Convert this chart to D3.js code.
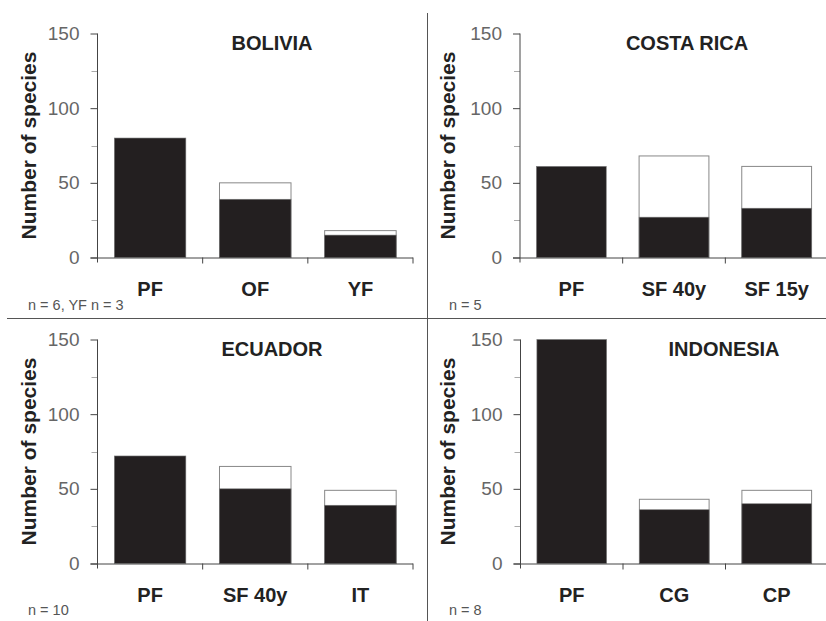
<!DOCTYPE html>
<html><head><meta charset="utf-8">
<script src="https://cdn.jsdelivr.net/npm/d3@7"></script>
<style>
html,body{margin:0;padding:0;background:#fff;}
svg{display:block;}
</style></head>
<body>
<svg id="chart" width="826" height="621"></svg>
<script>
// ---- data ----
const countries = ["BOLIVIA", "COSTA RICA", "ECUADOR", "INDONESIA"];
const categories = [
  ["PF", "OF", "YF"],
  ["PF", "SF 40y", "SF 15y"],
  ["PF", "SF 40y", "IT"],
  ["PF", "CG", "CP"]
];
const blackValues = [
  [80, 39, 15],
  [61, 27, 33],
  [72, 50, 39],
  [150, 36, 40]
];
const totalValues = [
  [80, 50, 18],
  [61, 68, 61],
  [72, 65, 49],
  [150, 43, 49]
];
const sampleNotes = ["n = 6, YF n = 3", "n = 5", "n = 10", "n = 8"];
const yMajorTicks = [0, 50, 100, 150];
const yMinorTicks = [25, 75, 125];
const yTitle = "Number of species";

// ---- layout ----
const layout = [
  {x0: 97.5, x1: 413, yTop: 33.5, yBot: 257.5, titleX: 272, titleY: 50, yTitleX: 28, noteX: 28, noteY: 310},
  {x0: 520, x1: 828, yTop: 33.5, yBot: 257.5, titleX: 687, titleY: 50, yTitleX: 447, noteX: 449, noteY: 310},
  {x0: 97.5, x1: 413, yTop: 339.5, yBot: 563.5, titleX: 272, titleY: 356, yTitleX: 28, noteX: 28, noteY: 615},
  {x0: 520.5, x1: 828, yTop: 339.5, yBot: 563.5, titleX: 724, titleY: 356, yTitleX: 447, noteX: 449, noteY: 615}
];

const svg = d3.select("#chart");
const FONT = "'Liberation Sans', Arial, Helvetica, sans-serif";

// dividers
svg.append("line").attr("x1", 7).attr("x2", 826).attr("y1", 318.5).attr("y2", 318.5)
  .attr("stroke", "#555").attr("stroke-width", 1);
svg.append("line").attr("x1", 427.5).attr("x2", 427.5).attr("y1", 13).attr("y2", 621)
  .attr("stroke", "#555").attr("stroke-width", 1);

countries.forEach((country, i) => {
  const L = layout[i];
  const g = svg.append("g");
  const y = d3.scaleLinear().domain([0, 150]).range([L.yBot, L.yTop]);
  const x = d3.scaleBand().domain(categories[i]).range([L.x0, L.x1])
    .paddingInner(0.32).paddingOuter(0.16);

  // minor ticks
  g.selectAll(".minor").data(yMinorTicks).join("line")
    .attr("x1", L.x0 - 6).attr("x2", L.x0)
    .attr("y1", d => Math.round(y(d)) + 0.5).attr("y2", d => Math.round(y(d)) + 0.5)
    .attr("stroke", "#aaa").attr("stroke-width", 1);

  // y axis
  const yAxis = g.append("g").attr("transform", `translate(${L.x0},0)`)
    .call(d3.axisLeft(y).tickValues(yMajorTicks).tickSize(7).tickPadding(11));
  yAxis.select(".domain").remove();
  yAxis.selectAll(".tick line").attr("stroke", "#444");
  yAxis.selectAll(".tick text").attr("fill", "#666").attr("font-size", 19)
    .attr("font-family", FONT).attr("font-weight", 300);
  g.append("line").attr("x1", L.x0).attr("x2", L.x0)
    .attr("y1", L.yTop).attr("y2", L.yBot + 5).attr("stroke", "#444");

  // bars: white (total) then black
  const rows = categories[i].map((c, j) => ({c, b: blackValues[i][j], t: totalValues[i][j]}));
  g.selectAll(".tot").data(rows.filter(r => r.t > r.b)).join("rect")
    .attr("x", d => x(d.c)).attr("width", x.bandwidth())
    .attr("y", d => y(d.t)).attr("height", d => y(0) - y(d.t))
    .attr("fill", "#fff").attr("stroke", "#888").attr("stroke-width", 1);
  g.selectAll(".blk").data(rows).join("rect")
    .attr("x", d => x(d.c)).attr("width", x.bandwidth())
    .attr("y", d => y(d.b)).attr("height", d => y(0) - y(d.b))
    .attr("fill", "#231f20").attr("stroke", "#777").attr("stroke-width", 0.6);

  // x axis line and boundary ticks
  g.append("line").attr("x1", L.x0 - 7).attr("x2", L.x1)
    .attr("y1", y(0) + 0.5).attr("y2", y(0) + 0.5).attr("stroke", "#444");
  const step = x.step();
  g.selectAll(".xt").data(d3.range(1, categories[i].length + 1)).join("line")
    .attr("x1", k => L.x0 + k * step).attr("x2", k => L.x0 + k * step)
    .attr("y1", y(0)).attr("y2", y(0) + 6).attr("stroke", "#444");

  // category labels
  g.selectAll(".cl").data(categories[i]).join("text")
    .attr("x", d => x(d) + x.bandwidth() / 2).attr("y", L.yBot + 38.5)
    .attr("text-anchor", "middle").attr("font-family", FONT).attr("font-weight", "bold")
    .attr("font-size", 20).attr("fill", "#222").text(d => d);

  // title
  g.append("text").attr("x", L.titleX).attr("y", L.titleY).attr("text-anchor", "middle")
    .attr("font-family", FONT).attr("font-weight", "bold").attr("font-size", 20)
    .attr("fill", "#222").text(country);

  // y title
  g.append("text")
    .attr("transform", `translate(${L.yTitleX},${(L.yTop + L.yBot) / 2}) rotate(-90)`)
    .attr("text-anchor", "middle").attr("dominant-baseline", "central")
    .attr("font-family", FONT).attr("font-weight", "bold").attr("font-size", 21)
    .attr("fill", "#222").text(yTitle);

  // note
  g.append("text").attr("x", L.noteX).attr("y", L.noteY)
    .attr("font-family", FONT).attr("font-size", 14.5).attr("fill", "#555")
    .text(sampleNotes[i]);
});
</script>
</body></html>
